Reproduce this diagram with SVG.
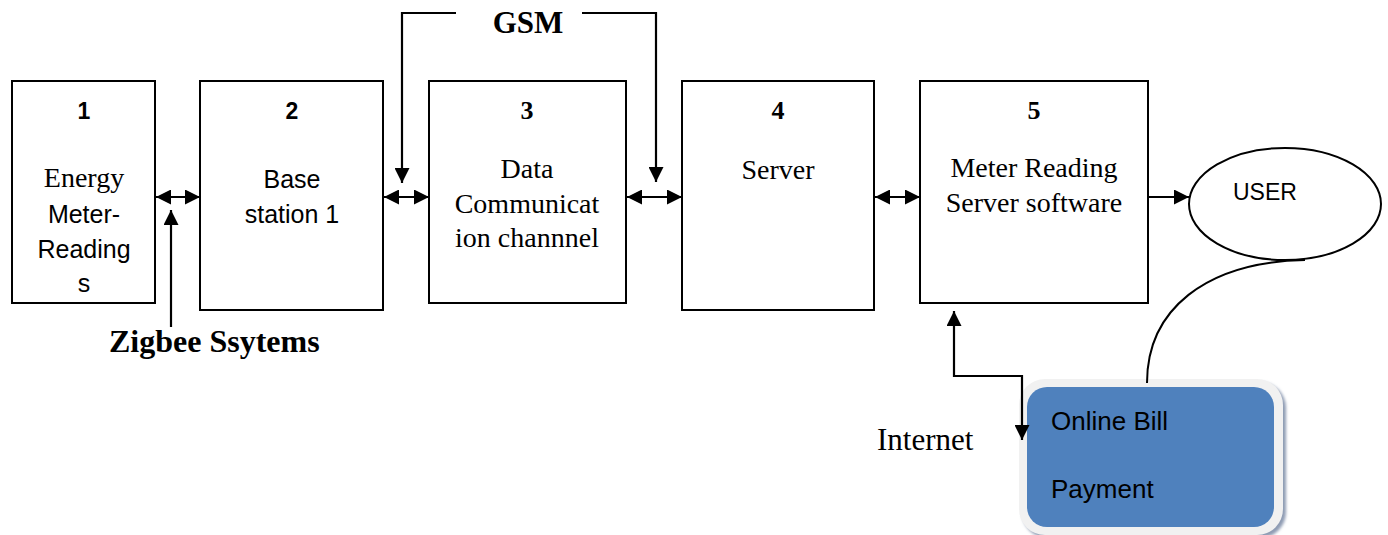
<svg xmlns="http://www.w3.org/2000/svg" width="1388" height="535" viewBox="0 0 1388 535">
  <style>
    .box { fill: #ffffff; stroke: #000000; stroke-width: 2; }
    .wire { fill: none; stroke: #000000; stroke-width: 2.2; }
    .serif { font-family: "Liberation Serif", "Times New Roman", serif; font-size: 28px; fill: #000; }
    .sans { font-family: "Liberation Sans", Arial, sans-serif; font-size: 25px; fill: #000; }
    .num { font-weight: bold; font-size: 23px; }
    .mid { text-anchor: middle; }
  </style>
  <defs>
    <marker id="head" viewBox="0 0 15 15" refX="15" refY="7.5" markerWidth="15" markerHeight="15" markerUnits="userSpaceOnUse" orient="auto-start-reverse">
      <path d="M0,0 L15,7.5 L0,15 Z" fill="#000"/>
    </marker>
    <filter id="soft" x="-10%" y="-10%" width="120%" height="120%">
      <feGaussianBlur stdDeviation="1.5"/>
    </filter>
  </defs>

  <rect width="1388" height="535" fill="#ffffff"/>

  <!-- Block 1 -->
  <g id="node-energy-meter">
    <rect class="box" x="12" y="81" width="143" height="222"/>
    <text class="sans num mid" x="84" y="119">1</text>
    <text class="serif mid" x="84" y="187">Energy</text>
    <text class="sans mid" x="84" y="223">Meter-</text>
    <text class="sans mid" x="84" y="258">Reading</text>
    <text class="sans mid" x="84" y="292">s</text>
  </g>

  <!-- Block 2 -->
  <g id="node-base-station">
    <rect class="box" x="200" y="81" width="183" height="229"/>
    <text class="sans num mid" x="292" y="119">2</text>
    <text class="sans mid" x="292" y="188">Base</text>
    <text class="sans mid" x="292" y="223">station 1</text>
  </g>

  <!-- Block 3 -->
  <g id="node-data-channel">
    <rect class="box" x="429" y="81" width="197" height="222"/>
    <text class="serif num mid" x="527" y="119" style="font-size:26px">3</text>
    <text class="serif mid" x="527" y="178">Data</text>
    <text class="serif mid" x="527" y="213">Communicat</text>
    <text class="serif mid" x="527" y="247">ion channnel</text>
  </g>

  <!-- Block 4 -->
  <g id="node-server">
    <rect class="box" x="682" y="81" width="192" height="229"/>
    <text class="serif num mid" x="778" y="119" style="font-size:26px">4</text>
    <text class="serif mid" x="778" y="179">Server</text>
  </g>

  <!-- Block 5 -->
  <g id="node-meter-software">
    <rect class="box" x="920" y="81" width="228" height="222"/>
    <text class="serif num mid" x="1034" y="119" style="font-size:26px">5</text>
    <text class="serif mid" x="1034" y="177">Meter Reading</text>
    <text class="serif mid" x="1034" y="212">Server software</text>
  </g>

  <!-- User -->
  <g id="node-user">
    <ellipse cx="1285" cy="204" rx="96" ry="56" fill="#ffffff" stroke="#000" stroke-width="2"/>
    <text class="sans" x="1233" y="200" style="font-size:23px">USER</text>
  </g>

  <!-- Online payment -->
  <g id="node-online-payment">
    <rect x="1022" y="382" width="264" height="156" rx="26" fill="#8e9bb3" filter="url(#soft)"/>
    <rect x="1019" y="379" width="264" height="156" rx="26" fill="#f1f1f1"/>
    <rect x="1027" y="387" width="247" height="140" rx="20" fill="#4f81bd"/>
    <text class="sans" x="1051" y="430" style="font-size:26px">Online Bill</text>
    <text class="sans" x="1051" y="498" style="font-size:26px">Payment</text>
  </g>

  <!-- Labels -->
  <g id="labels">
    <text class="serif mid" x="528" y="33" style="font-weight:bold;font-size:31px">GSM</text>
    <text class="serif" x="109" y="352" style="font-weight:bold;font-size:32px">Zigbee Ssytems</text>
    <text class="serif" x="877" y="450" style="font-size:31px">Internet</text>
  </g>

  <!-- Connectors -->
  <g id="connectors">
    <line class="wire" x1="156" y1="197" x2="200" y2="197" marker-start="url(#head)" marker-end="url(#head)"/>
    <line class="wire" x1="384" y1="197" x2="429" y2="197" marker-start="url(#head)" marker-end="url(#head)"/>
    <line class="wire" x1="627" y1="197" x2="682" y2="197" marker-start="url(#head)" marker-end="url(#head)"/>
    <line class="wire" x1="875" y1="197" x2="920" y2="197" marker-start="url(#head)" marker-end="url(#head)"/>
    <line class="wire" x1="1148" y1="197" x2="1189" y2="197" marker-end="url(#head)"/>
    <!-- Zigbee feed -->
    <line class="wire" x1="171" y1="327" x2="171" y2="210" marker-end="url(#head)"/>
    <!-- GSM feeds -->
    <polyline class="wire" points="456,13 402,13 402,183" marker-end="url(#head)"/>
    <polyline class="wire" points="582,13 656,13 656,182" marker-end="url(#head)"/>
    <!-- Internet link -->
    <polyline class="wire" points="1022,440 1022,376 954,376 954,311" marker-start="url(#head)" marker-end="url(#head)"/>
    <!-- Payment to user -->
    <path d="M1147,383 C1147,310 1205,262 1305,260" fill="none" stroke="#000" stroke-width="2"/>
  </g>
</svg>
